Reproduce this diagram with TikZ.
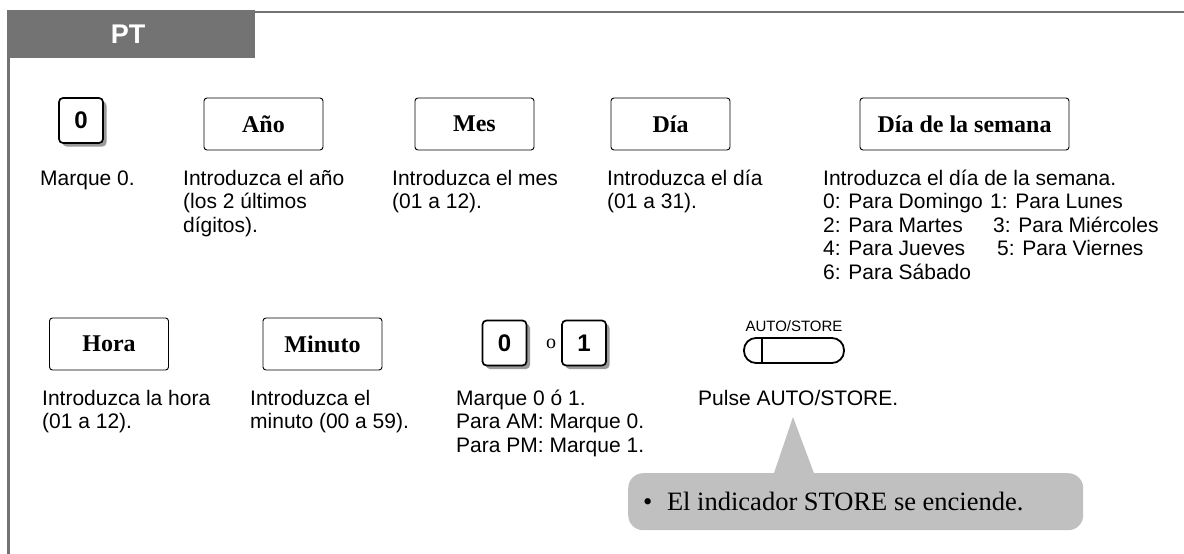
\documentclass[tikz,border=0pt]{standalone}
\usepackage{fontspec}
\setmainfont{Liberation Sans}
\newfontfamily\tmsfont{Liberation Serif}
\usetikzlibrary{positioning,calc,shadows}
\definecolor{bargray}{HTML}{737373}
\definecolor{notegray}{HTML}{C0C0C0}
\definecolor{shadegray}{HTML}{9A9A9A}
\newcommand{\topline}{\rule{0pt}{21pt}}
\begin{document}
\begin{tikzpicture}[x=1pt, y=-1pt,
    field/.style={draw, line width=0.9pt, rounded corners=3pt, minimum width=119pt,
        minimum height=52pt, inner sep=0pt, font=\tmsfont\bfseries\fontsize{24}{26}\selectfont},
    keycap/.style={draw, line width=1.7pt, rounded corners=4pt, fill=white, minimum width=44pt,
        minimum height=45pt, inner sep=0pt, font=\bfseries\fontsize{24}{26}\selectfont,
        drop shadow={shadow xshift=3.5pt, shadow yshift=-3.5pt, fill=shadegray, opacity=1}},
    desc/.style={anchor=north west, align=left, inner sep=0pt, font=\fontsize{21}{23.5}\selectfont}]

    \useasboundingbox (0,0) rectangle (1184,554);

    % Frame
    \fill[bargray] (7,10) rectangle (255,58);
    \node[text=white, font=\bfseries\fontsize{27}{29}\selectfont] (title) at (128,34) {PT};
    \draw[bargray, line width=2pt] (255,12) -- (1184,12);
    \draw[bargray, line width=2.5pt] (8.5,58) -- (8.5,554);

    % First row
    \node[keycap] (zero) at (81,120.5) {0};
    \node[field] (year) at (263.5,124) {Año};
    \node[field] (month) at (474.5,124) {Mes};
    \node[field] (day) at (670.5,124) {Día};
    \node[field, minimum width=209pt] (weekday) at (964.5,124) {Día de la semana};

    \node[desc] (zerotxt) at (40,164) {\topline Marque 0.};
    \node[desc] (yeartxt) at (183,164) {\topline Introduzca el año\\(los 2 últimos\\dígitos).};
    \node[desc] (monthtxt) at (392,164) {\topline Introduzca el mes\\(01 a 12).};
    \node[desc] (daytxt) at (607,164) {\topline Introduzca el día\\(01 a 31).};
    \node[desc] (weektxt) at (823,164) {\topline Introduzca el día de la semana.\\
        \makebox[167pt][l]{0: Para Domingo}1: Para Lunes\\
        \makebox[170pt][l]{2: Para Martes}3: Para Miércoles\\
        \makebox[174pt][l]{4: Para Jueves}5: Para Viernes\\
        6: Para Sábado};

    % Second row
    \node[field] (hour) at (109,344) {Hora};
    \node[field] (minute) at (322.5,344) {Minuto};
    \node[keycap] (amkey) at (504.5,343) {0};
    \node[font=\tmsfont\fontsize{20}{22}\selectfont] (or) at (551,344) {o};
    \node[keycap] (pmkey) at (584,343) {1};
    \node[draw, line width=1.8pt, rounded corners=12pt, minimum width=100pt,
        minimum height=25pt, inner sep=0pt] (store) at (794,350.5) {};
    \draw[line width=1.8pt] ($(store.north west)+(19,0)$) -- ($(store.south west)+(19,0)$);
    \node[font=\fontsize{15}{17}\selectfont, inner sep=0pt, above=5pt of store] (storelbl) {AUTO/STORE};

    \node[desc] (hourtxt) at (42,384) {\topline Introduzca la hora\\(01 a 12).};
    \node[desc] (minutetxt) at (250,384) {\topline Introduzca el\\minuto (00 a 59).};
    \node[desc] (ampmtxt) at (456,384) {\topline Marque 0 ó 1.\\Para AM: Marque 0.\\Para PM: Marque 1.};
    \node[desc] (storetxt) at (698,384) {\topline Pulse AUTO/STORE.};

    % Callout
    \node[fill=notegray, rounded corners=15pt, minimum width=455pt, minimum height=57pt,
        anchor=north west, inner sep=0pt] (note) at (628,473) {};
    \coordinate (tip) at (793,417);
    \fill[notegray] (tip) -- ($(note.north west)+(145,3)$) -- ($(note.north west)+(187,3)$) -- cycle;
    \node[anchor=west, inner sep=0pt, font=\tmsfont\fontsize{26.5}{28}\selectfont]
        (notetxt) at ($(note.west)+(15,0)$) {\textbullet\hspace{0.55em}El indicador STORE se enciende.};

\end{tikzpicture}
\end{document}
